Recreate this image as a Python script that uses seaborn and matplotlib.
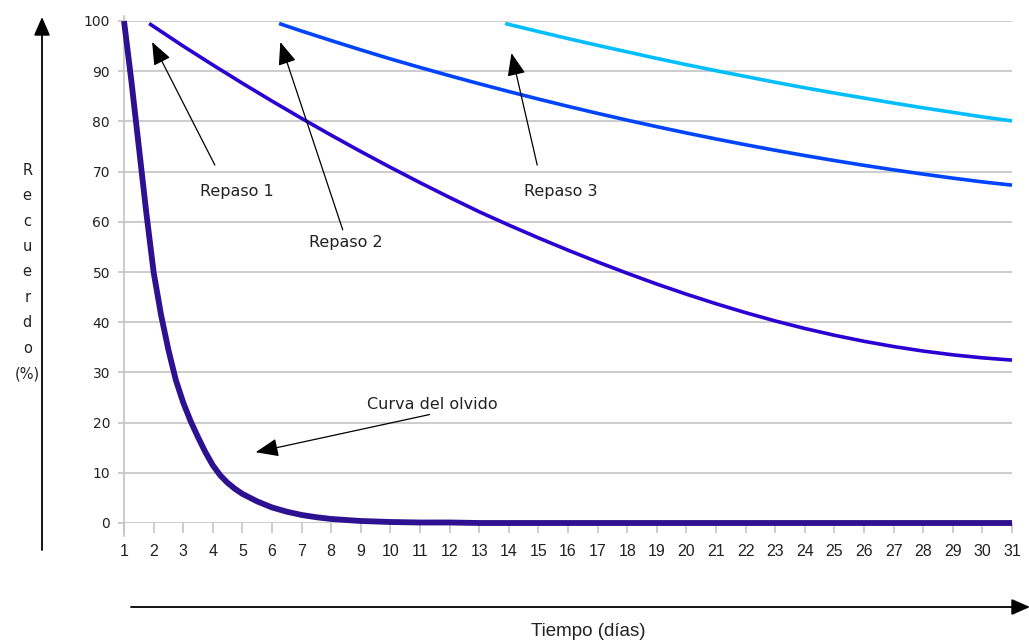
import pandas as pd
import matplotlib
matplotlib.use('Agg')
import matplotlib.pyplot as plt
import seaborn as sns

# Curva del olvido (dia, % recuerdo)
dias_olvido = [1, 1.25, 1.5, 1.75, 2, 2.25, 2.5, 2.75, 3, 3.25, 3.5, 3.75, 4, 4.25, 4.5, 4.75, 5, 5.5, 6,
               6.5, 7, 7.5, 8, 9, 10, 11, 12, 13, 14, 15, 16, 17, 18, 19, 20, 21, 22, 23, 24, 25, 26,
               27, 28, 29, 30, 31]
recuerdo_olvido = [100, 88, 75, 62, 50, 41.5, 34.5, 28.5, 24, 20.3, 17.1, 14.1, 11.5, 9.5, 8.0, 6.8, 5.8, 4.3,
                   3.1, 2.25, 1.6, 1.15, 0.8, 0.4, 0.2, 0.1, 0.1, 0, 0, 0, 0, 0, 0, 0, 0, 0, 0, 0, 0, 0, 0,
                   0, 0, 0, 0, 0]

# Repaso 1
dias_rep1 = [1.85, 3, 4, 5, 6, 7, 8, 9, 10, 11, 12, 13, 14, 15, 16, 17, 18, 19, 20,
             21, 22, 23, 24, 25, 26, 27, 28, 29, 30, 31]
recuerdo_rep1 = [99.5, 95, 91.25, 87.6, 84.05, 80.6, 77.25, 74.0, 70.85, 67.8, 64.85, 62.0, 59.35, 56.8,
                 54.35, 52.0, 49.75, 47.6, 45.58, 43.68, 41.9, 40.25, 38.75, 37.4, 36.2, 35.15, 34.25,
                 33.5, 32.9, 32.45]

# Repaso 2
dias_rep2 = [6.24, 7, 8, 9, 10, 11, 12, 13, 14, 15, 16, 17, 18, 19, 20,
             21, 22, 23, 24, 25, 26, 27, 28, 29, 30, 31]
recuerdo_rep2 = [99.5, 98.0, 96.1, 94.25, 92.45, 90.75, 89.1, 87.5, 85.95, 84.45, 83.0, 81.6, 80.25, 78.95,
                 77.7, 76.5, 75.35, 74.25, 73.2, 72.2, 71.25, 70.35, 69.5, 68.7, 67.95, 67.3]

# Repaso 3
dias_rep3 = [13.88, 15, 16, 17, 18, 19, 20, 21, 22, 23, 24, 25, 26, 27, 28, 29, 30, 31]
recuerdo_rep3 = [99.5, 97.9, 96.5, 95.15, 93.85, 92.55, 91.3, 90.1, 88.95, 87.8, 86.7, 85.65, 84.65, 83.65,
                 82.7, 81.8, 80.9, 80.1]

dias_ticks = list(range(1, 32))
recuerdo_ticks = list(range(0, 101, 10))

sns.set_theme(style='white')
plt.rcParams['font.family'] = ['DejaVu Sans']
fuente_estrecha = ['Liberation Sans Narrow', 'Liberation Sans']

fig = plt.figure(figsize=(10.29, 6.41), dpi=100)
ax = fig.add_axes([124 / 1029, 118 / 641, 888 / 1029, 502 / 641])

series = [
    (dias_olvido, recuerdo_olvido, '#2d1190', 4.2),
    (dias_rep1, recuerdo_rep1, '#2c00d2', 2.6),
    (dias_rep2, recuerdo_rep2, '#0044ff', 2.6),
    (dias_rep3, recuerdo_rep3, '#00beff', 2.6),
]
for xs, ys, col, lw in series:
    df = pd.DataFrame({'dia': xs, 'recuerdo': ys})
    sns.lineplot(data=df, x='dia', y='recuerdo', ax=ax, color=col, linewidth=lw,
                 clip_on=False, solid_capstyle='butt', solid_joinstyle='round', zorder=3)

ax.set_xlim(1, 31)
ax.set_ylim(0, 100)
ax.set_xticks(dias_ticks)
ax.set_yticks(recuerdo_ticks)
ax.set_xlabel('')
ax.set_ylabel('')

ax.grid(axis='y', color='#c4c4c4', linewidth=1.2)
ax.grid(axis='x', visible=False)
for s in ['top', 'right', 'bottom']:
    ax.spines[s].set_visible(False)
ax.spines['left'].set_color('#c4c4c4')
ax.spines['left'].set_linewidth(1.2)
ax.spines['left'].set_bounds(-2.5, 101)

ax.tick_params(axis='y', length=4, width=1.2, color='#c4c4c4', pad=6, labelsize=10, labelcolor='#222222',
               left=True)
ax.tick_params(axis='x', length=7, width=1.2, color='#c4c4c4', pad=8, labelsize=11.5, labelcolor='#222222',
               bottom=True)
for lab in ax.get_xticklabels():
    lab.set_family(fuente_estrecha)

# etiqueta vertical del eje y
ax.text(-0.109, 0.5, '\n'.join(list('Recuerdo') + ['(%)']), transform=ax.transAxes,
        ha='center', va='center', fontsize=10.5, color='#222222', linespacing=1.87)

# anotaciones
flecha = dict(arrowstyle='-|>,head_length=1.0,head_width=0.4', color='black', lw=0.9,
              mutation_scale=14, shrinkA=0, shrinkB=0)
notas = [
    ('Repaso 1', (1.95, 95.8), (4.07, 71.3), (4.81, 66.1)),
    ('Repaso 2', (6.28, 95.8), (8.39, 58.4), (8.49, 55.8)),
    ('Repaso 3', (14.09, 93.6), (14.96, 71.3), (15.74, 66.1)),
    ('Curva del olvido', (5.45, 14.1), (11.32, 21.6), (11.42, 23.7)),
]
for txt, tip, tail, pos in notas:
    ax.annotate('', xy=tip, xytext=tail, arrowprops=flecha, zorder=5)
    ax.text(pos[0], pos[1], txt, ha='center', va='center', fontsize=11.5, color='#222222', zorder=6)

# flechas de los ejes
flecha_eje = dict(arrowstyle='-|>,head_length=0.8,head_width=0.35', color='black', lw=1.3,
                  mutation_scale=14, shrinkA=0, shrinkB=0)
fig.add_artist(matplotlib.patches.FancyArrowPatch((42, 91), (42, 624), transform=None, **flecha_eje))
fig.add_artist(matplotlib.patches.FancyArrowPatch((131, 34), (1030, 34), transform=None, **flecha_eje))

fig.text(588 / 1029, 10 / 641, 'Tiempo (días)', ha='center', va='center', fontsize=13.5, color='#222222',
         family=fuente_estrecha)

fig.savefig('out.png', dpi=100)
